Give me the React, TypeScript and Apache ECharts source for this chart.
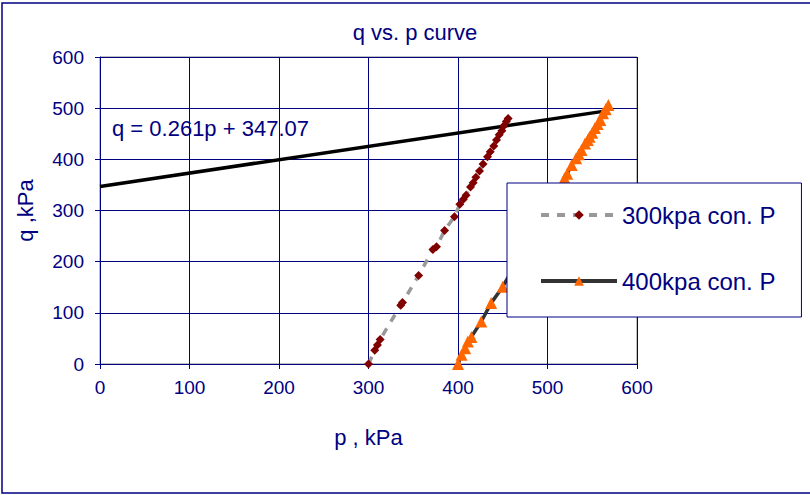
import React, { useEffect, useRef } from "react";
import * as echarts from "echarts";

const titleText = "q vs. p curve";
const xName = "p , kPa";
const yName = "q ,kPa";
const series300Name = "300kpa con. P";
const series400Name = "400kpa con. P";

// 300 kPa confining pressure: [p, q]
const p300 = [300, 307, 310, 313, 336, 338, 356, 372, 376, 385, 396, 402, 406, 409, 414, 417, 420, 424, 428, 433, 436, 440, 443, 446, 449, 451, 454, 456];
const q300 = [0, 27, 37, 48, 115, 120, 173, 224, 229, 261, 288, 312, 322, 330, 346, 354, 365, 377, 391, 405, 415, 426, 438, 448, 456, 465, 474, 480];

// 400 kPa confining pressure: [p, q]
const p400 = [400, 404, 408, 411, 415, 426, 437, 450, 519, 522, 527, 532, 535, 538, 542, 545, 547, 550, 553, 556, 559, 562, 565, 568];
const q400 = [0, 18, 31, 44, 53, 83, 119, 151, 363, 372, 389, 402, 410, 418, 431, 438, 444, 452, 461, 469, 477, 490, 498, 506];

// Failure envelope fit
const fitSlope = 0.261;
const fitIntercept = 347.07;
const fitPRange = [0, 562];
const equationText = "q = 0.261p + 347.07";

const axisMin = 0;
const axisMax = 600;
const axisInterval = 100;

const NAVY = "#000080";
const FONT = "'Liberation Sans', Arial, sans-serif";

export default function App() {
  const ref = useRef<HTMLDivElement>(null);
  useEffect(() => {
    if (!ref.current) return;
    const chart = echarts.init(ref.current, undefined, { renderer: "svg" });
    const data300 = p300.map((p, i) => [p, q300[i]]);
    const data400 = p400.map((p, i) => [p, q400[i]]);
    const fitData = fitPRange.map((p) => [p, fitSlope * p + fitIntercept]);
    chart.setOption({
      animation: false,
      backgroundColor: "#ffffff",
      textStyle: { fontFamily: FONT },
      title: {
        text: titleText,
        left: 410,
        textAlign: "center",
        top: 16,
        textStyle: { color: NAVY, fontSize: 22, fontWeight: "normal", fontFamily: FONT },
      },
      grid: {
        left: 100,
        top: 57,
        right: 173,
        bottom: 131,
        show: true,
        borderColor: "#808080",
        borderWidth: 1,
        backgroundColor: "transparent",
      },
      legend: {
        data: [
          { name: series300Name, lineStyle: { width: 4 } },
          { name: series400Name, lineStyle: { width: 4 } },
        ],
        orient: "vertical",
        left: 507,
        top: 183,
        width: 298,
        backgroundColor: "#ffffff",
        borderColor: NAVY,
        borderWidth: 1,
        padding: [20, 26, 24, 32],
        itemGap: 42,
        itemWidth: 76,
        itemHeight: 12,
        textStyle: { color: NAVY, fontSize: 24, fontFamily: FONT },
        z: 10,
      },
      xAxis: {
        type: "value",
        min: axisMin,
        max: axisMax,
        interval: axisInterval,
        name: xName,
        nameLocation: "middle",
        nameGap: 62,
        nameTextStyle: { color: NAVY, fontSize: 22, fontFamily: FONT },
        axisLine: { show: true, lineStyle: { color: NAVY, width: 1 } },
        axisTick: { show: true, length: 5, lineStyle: { color: NAVY } },
        axisLabel: { color: NAVY, fontSize: 19, margin: 14, fontFamily: FONT },
        splitLine: { show: true, lineStyle: { color: NAVY, width: 1 } },
      },
      yAxis: {
        type: "value",
        min: axisMin,
        max: axisMax,
        interval: axisInterval,
        name: yName,
        nameLocation: "middle",
        nameGap: 64,
        nameTextStyle: { color: NAVY, fontSize: 22, fontFamily: FONT },
        axisLine: { show: true, lineStyle: { color: NAVY, width: 1 } },
        axisTick: { show: true, length: 5, lineStyle: { color: NAVY } },
        axisLabel: { color: NAVY, fontSize: 19, margin: 16, fontFamily: FONT },
        splitLine: { show: true, lineStyle: { color: NAVY, width: 1 } },
      },
      graphic: [
        {
          type: "rect",
          shape: { x: 2, y: 3, width: 812, height: 490 },
          style: { fill: "none", stroke: NAVY, lineWidth: 1.5 },
          silent: true,
        },
        {
          type: "text",
          x: 112,
          y: 128,
          style: {
            text: equationText,
            fill: NAVY,
            font: `22px ${FONT}`,
            verticalAlign: "middle",
          },
          z: 5,
        },
      ],
      series: [
        {
          name: "fit",
          type: "line",
          data: fitData,
          showSymbol: false,
          symbol: "none",
          lineStyle: { color: "#000000", width: 3.5 },
          z: 2,
        },
        {
          name: series300Name,
          type: "line",
          data: data300,
          symbol: "diamond",
          symbolSize: 9,
          itemStyle: { color: "#800000" },
          lineStyle: { color: "#999999", width: 3.5, type: [8, 8] },
          z: 3,
        },
        {
          name: series400Name,
          type: "line",
          data: data400,
          symbol: "triangle",
          symbolSize: 12,
          itemStyle: { color: "#FF6600" },
          lineStyle: { color: "#333333", width: 3.5 },
          z: 3,
        },
      ],
    });
    return () => chart.dispose();
  }, []);
  return <div ref={ref} style={{ width: 810, height: 495, position: "absolute", left: 0, top: 0 }} />;
}
